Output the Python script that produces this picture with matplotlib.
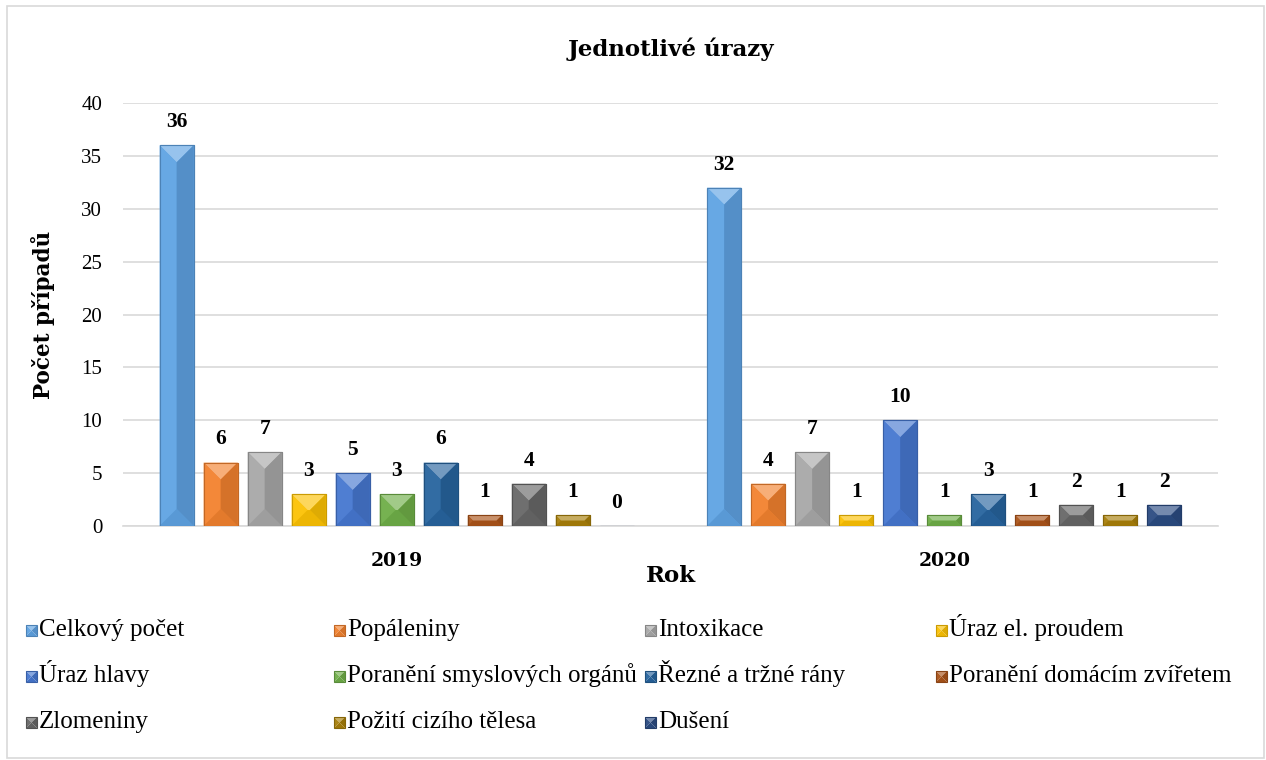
import matplotlib
matplotlib.use("Agg")
import matplotlib.pyplot as plt
from matplotlib.patches import Polygon, Rectangle
from matplotlib.colors import to_rgb
import numpy as np

# Data
years = ["2019", "2020"]
categories = [
    "Celkový počet", "Popáleniny", "Intoxikace", "Úraz el. proudem",
    "Úraz hlavy", "Poranění smyslových orgánů", "Řezné a tržné rány",
    "Poranění domácím zvířetem", "Zlomeniny", "Požití cizího tělesa", "Dušení",
]
values_2019 = [36, 6, 7, 3, 5, 3, 6, 1, 4, 1, 0]
values_2020 = [32, 4, 7, 1, 10, 1, 3, 1, 2, 1, 2]
colors = [
    "#5fa3e3", "#f2822f", "#a8a8a8", "#fcc204", "#4677d0", "#6fae48",
    "#27649e", "#ab541a", "#676767", "#a87f0a", "#2b4b82",
]
yticks = [0, 5, 10, 15, 20, 25, 30, 35, 40]

TIMES = ["Liberation Serif", "DejaVu Serif"]
WIDE = ["DejaVu Serif", "Liberation Serif"]
plt.rcParams["font.family"] = TIMES

W, H = 1266, 760
fig = plt.figure(figsize=(W / 100, H / 100), dpi=100)
fig.patch.set_facecolor("white")


def fx(px):
    return px / W


def fy(py):
    return 1 - py / H


def shade(c, f):
    r, g, b = to_rgb(c)
    if f >= 0:
        return (r + (1 - r) * f, g + (1 - g) * f, b + (1 - b) * f)
    return (r * (1 + f), g * (1 + f), b * (1 + f))


FACETS = (0.35, 0.05, -0.12, -0.06)  # top, left, right, bottom


def bevel(target, x0, y0, x1, y1, dx, dy, color, transform, z):
    """Draw a bevelled box as four sloped facets meeting at a ridge."""
    ix0, ix1, iy0, iy1 = x0 + dx, x1 - dx, y0 + dy, y1 - dy
    polys = [
        [(x0, y1), (x1, y1), (ix1, iy1), (ix0, iy1)],
        [(x0, y1), (ix0, iy1), (ix0, iy0), (x0, y0)],
        [(x1, y1), (ix1, iy1), (ix1, iy0), (x1, y0)],
        [(x0, y0), (ix0, iy0), (ix1, iy0), (x1, y0)],
    ]
    for pts, f in zip(polys, FACETS):
        target.add_artist(Polygon(pts, closed=True, facecolor=shade(color, f),
                                  edgecolor="none", transform=transform, zorder=z))
    target.add_artist(Rectangle((x0, y0), x1 - x0, y1 - y0, fill=False,
                                edgecolor=shade(color, -0.2), linewidth=0.8,
                                transform=transform, zorder=z + 1))


# chart border
fig.add_artist(Rectangle((fx(7), fy(758)), 1257 / W, 752 / H,
                         transform=fig.transFigure, fill=False,
                         edgecolor="#d9d9d9", linewidth=1.2))

ax_l, ax_r, ax_t, ax_b = 123, 1218, 103, 526
ax = fig.add_axes([fx(ax_l), fy(ax_b), (ax_r - ax_l) / W, (ax_b - ax_t) / H])
ax.set_xlim(-0.5, 1.5)
ax.set_ylim(0, 40)

n = len(categories)
pitch = 0.0804
width = 0.0621
x = np.arange(len(years))
data = np.array([values_2019, values_2020])

px_x = (ax_r - ax_l) / 2.0
px_y = (ax_b - ax_t) / 40.0

for i in range(n):
    offs = (i - (n - 1) / 2) * pitch
    bars = ax.bar(x + offs, data[:, i], width=width, color=colors[i],
                  edgecolor=shade(colors[i], -0.15), linewidth=0.8,
                  label=categories[i], zorder=3)
    for bar, v in zip(bars, data[:, i]):
        x0 = bar.get_x()
        x1 = x0 + bar.get_width()
        y0 = bar.get_y()
        y1 = y0 + bar.get_height()
        if v > 0:
            d = min((x1 - x0) * px_x, (y1 - y0) * px_y) / 2.0
            bevel(ax, x0, y0, x1, y1, d / px_x, d / px_y, colors[i],
                  ax.transData, 4)
        ax.annotate(f"{v}", (bar.get_x() + bar.get_width() / 2, bar.get_height()),
                    xytext=(0, 13), textcoords="offset points", ha="center",
                    va="baseline", fontsize=15.5, fontweight="bold", family=TIMES,
                    zorder=6)

ax.set_yticks(yticks)
ax.set_yticklabels([str(t) for t in yticks], fontsize=15, family=TIMES)
ax.set_xticks(x)
ax.set_xticklabels(years, fontsize=13.5, fontweight="bold", family=WIDE)
ax.tick_params(axis="both", length=0)
ax.tick_params(axis="y", pad=15)
ax.tick_params(axis="x", pad=19)
ax.grid(axis="y", color="#d9d9d9", linewidth=1.2, zorder=0)
ax.set_axisbelow(True)
for s in ["top", "right", "left"]:
    ax.spines[s].set_visible(False)
ax.spines["bottom"].set_color("#d9d9d9")
ax.spines["bottom"].set_linewidth(1.2)

ax.set_title("Jednotlivé úrazy", fontsize=16.5, fontweight="bold", family=WIDE, pad=34)
ax.set_ylabel("Počet případů", fontsize=15.5, fontweight="bold", family=WIDE, labelpad=19)
ax.set_xlabel("Rok", fontsize=16.5, fontweight="bold", family=WIDE, labelpad=-4)

# legend: four fixed-width columns, filled row by row
col_x = [26, 334, 645, 936]
row_base = [636, 682, 728]
ncol = 4
msize = 11
for k, name in enumerate(categories):
    r, c = divmod(k, ncol)
    mx, by = col_x[c], row_base[r]
    bevel(fig, fx(mx), fy(by), fx(mx + msize), fy(by - msize),
          (msize / 2) / W, (msize / 2) / H, colors[k],
          fig.transFigure, 5)
    fig.text(fx(mx + msize + 2), fy(by), name, fontsize=18, family=TIMES,
             ha="left", va="baseline")

fig.savefig("out.png", dpi=100)
